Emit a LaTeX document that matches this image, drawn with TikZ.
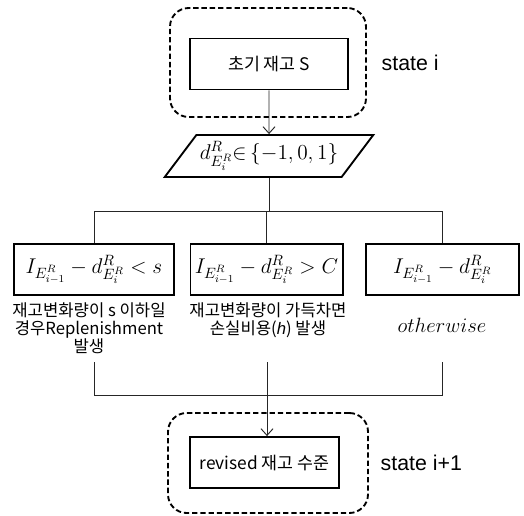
\RequirePackage{fix-cm}
\documentclass[tikz,border=0pt]{standalone}
\usepackage{fontspec}
\setmainfont{Noto Sans CJK KR}
\newfontfamily\statefont{Liberation Sans}
\usetikzlibrary{positioning,shapes.geometric,arrows.meta}

\begin{document}
\begin{tikzpicture}[x=0.75pt,y=-0.75pt,
  statebox/.style={draw,line width=1.4pt,dash pattern=on 4pt off 2.2pt,
    rounded corners=14pt},
  procbox/.style={draw,line width=1.4pt,minimum height=38.25pt,
    font=\fontsize{13}{15}\selectfont},
  condbox/.style={draw,line width=1.4pt,minimum height=38.25pt,
    font=\fontsize{16}{19}\selectfont},
  choicebox/.style={draw,line width=1.4pt,trapezium,trapezium left angle=53,
    trapezium right angle=127,minimum height=31.5pt,inner xsep=-3pt,
    font=\fontsize{16}{19}\selectfont},
  note/.style={align=center,font=\fontsize{12.5}{13.5}\selectfont},
  statelabel/.style={anchor=west,font=\statefont\fontsize{16}{19}\selectfont},
  link/.style={line width=0.7pt,black!85},
  arr/.style={link,-{Straight Barb[length=5pt,width=9pt]}}]

  \useasboundingbox (0,0) rectangle (524,515);

  % state i
  \node[statebox,minimum width=147pt,minimum height=81.75pt] (statei) at (268,62.5) {};
  \node[procbox,minimum width=118.5pt] (init) at (269,64) {초기 재고 S};
  \node[statelabel] (lbli) at (377,63) {state i};

  % demand
  \node[choicebox] (choice) at (269,156) {$d^R_{E_i^R}{\in}\,\{-1,0,1\}$};
  \draw[arr] (init.south) -- (choice.north);

  % cases
  \coordinate (split) at (267,211);
  \node[condbox,minimum width=120pt] (case1) at (94,269.5)
    {$I_{E_{i-1}^R}-d^R_{E_i^R}<s$};
  \node[condbox,minimum width=113.25pt] (case2) at (266.5,269.5)
    {$I_{E_{i-1}^R}-d^R_{E_i^R}>C$};
  \node[condbox,minimum width=114.75pt] (case3) at (442.5,269.5)
    {$I_{E_{i-1}^R}-d^R_{E_i^R}$};

  \draw[link] (choice.south) -- (choice.south |- split);
  \draw[link] (case1.north |- split) -- (case3.north |- split);
  \foreach \c in {case1,case2,case3}
    \draw[link] (\c.north |- split) -- (\c.north);

  \node[note] (note1) at (89,328) {재고변화량이 s 이하일\\경우Replenishment\\발생};
  \node[note] (note2) at (268,320) {재고변화량이 가득차면\\손실비용({\statefont\itshape h}) 발생};
  \node[font=\fontsize{15.5}{18}\selectfont] (note3) at (442,325) {$otherwise$};

  % state i+1
  \coordinate (jtop) at (267,362);
  \coordinate (merge) at (267,395);
  \node[statebox,minimum width=150pt,minimum height=75pt] (stateii) at (268,463) {};
  \node[procbox,minimum width=111.75pt] (revised) at (264.5,462.5) {revised 재고 수준};
  \node[statelabel] (lblii) at (376,463) {state i+1};

  \draw[link] (case1.south |- jtop) -- (case1.south |- merge)
    -- (case3.south |- merge) -- (case3.south |- jtop);
  \draw[arr] (jtop) -- (jtop |- revised.north);

\end{tikzpicture}
\end{document}
